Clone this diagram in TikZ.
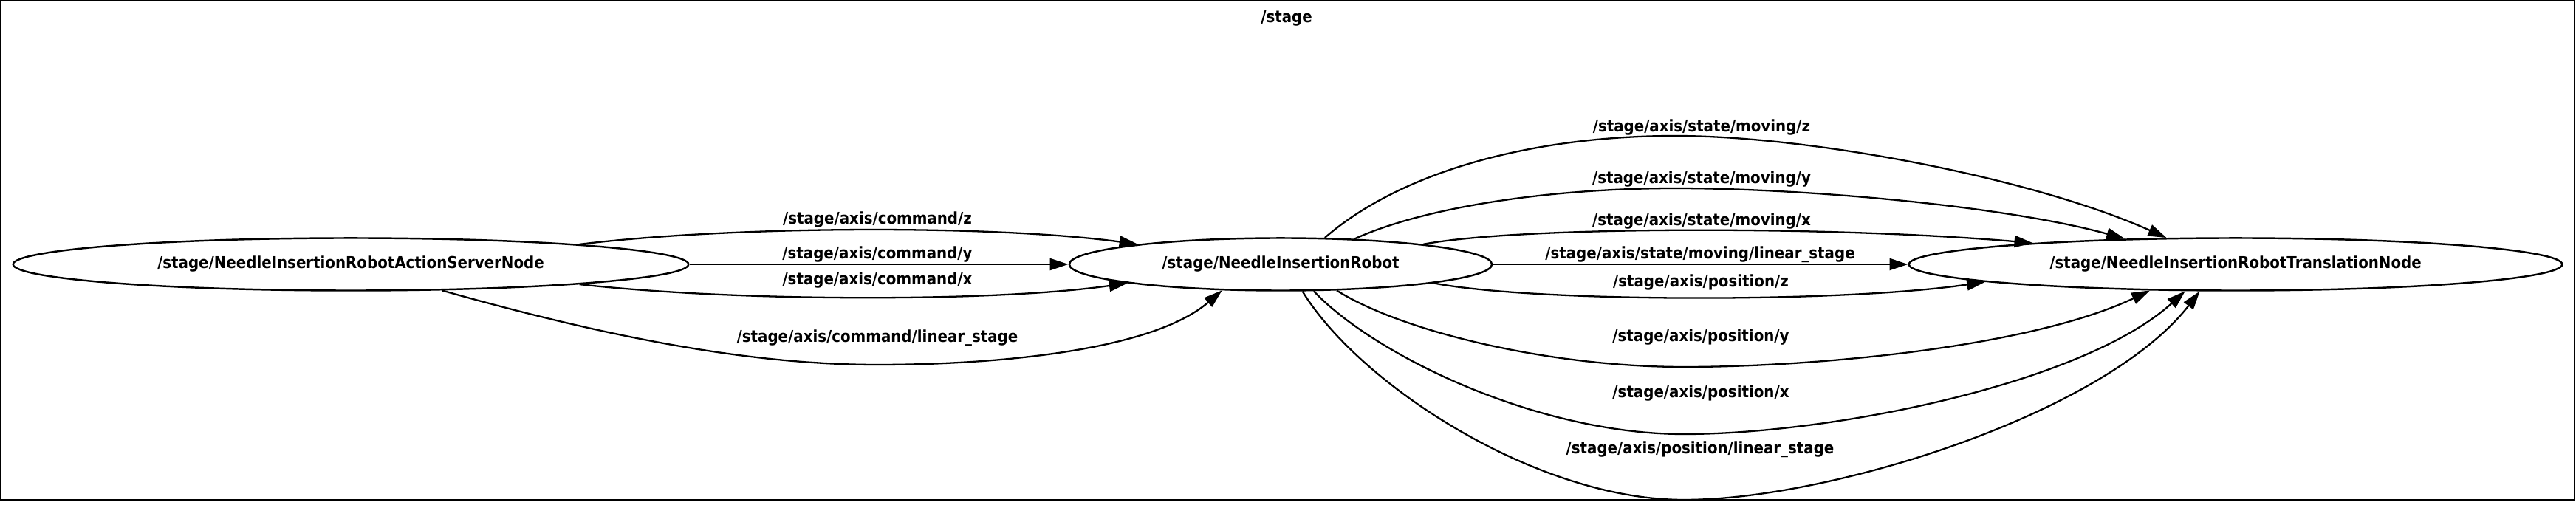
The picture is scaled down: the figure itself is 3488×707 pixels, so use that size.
\documentclass[tikz,border=0pt]{standalone}
\usepackage{fontspec}
\setmainfont{DejaVu Sans}[BoldFont={DejaVu Sans Bold},BoldFeatures={FakeStretch=0.9}]
\usetikzlibrary{arrows.meta,shapes.geometric}

\begin{document}
\begin{tikzpicture}[x=0.01cm,y=-0.01cm,
  every node/.style={font=\fontsize{6.26}{7.5}\selectfont\bfseries},
  rosnode/.style={draw,ellipse,line width=0.7pt,inner sep=0pt,minimum height=0.71cm},
  topic/.style={inner sep=0pt},
  link/.style={line width=0.65pt,-{Triangle[length=0.25cm,width=0.16cm]}}]
  \useasboundingbox (0,0) rectangle (3488,707);
  % Cluster box
  \draw[line width=0.8pt] (1,1) rectangle (3486,677);
  \node (title) at (1742,25) {/stage};
  % Nodes
  \node[rosnode,minimum width=9.14cm] (server) at (475,358) {/stage/NeedleInsertionRobotActionServerNode};
  \node[rosnode,minimum width=5.72cm] (robot) at (1734,358) {/stage/NeedleInsertionRobot};
  \node[rosnode,minimum width=8.84cm] (trans) at (3027,358) {/stage/NeedleInsertionRobotTranslationNode};
  % Commands: server -> robot
  \draw[link] (server.5.2) .. controls (1000,305) and (1350,305) .. (robot.172.5);
  \draw[link] (server) -- (robot);
  \draw[link] (server.-5.2) .. controls (1000,409) and (1350,409) .. (robot.187.3);
  \draw[link] (server.-16.9) .. controls (800,450) and (1000,494) .. (1188,494)
    .. controls (1350,494) and (1560,475) .. (robot.204.4);
  \node[topic] (cmdZ) at (1188,298) {/stage/axis/command/z};
  \node[topic] (cmdY) at (1188,345) {/stage/axis/command/y};
  \node[topic] (cmdX) at (1188,380) {/stage/axis/command/x};
  \node[topic] (cmdLin) at (1188,458) {/stage/axis/command/linear\_stage};
  % State and position: robot -> translation node
  \draw[link] (robot.31.5) .. controls (1900,230) and (2080,184) .. (2268,184)
    .. controls (2450,184) and (2750,240) .. (trans.159.6);
  \draw[link] (robot.19.3) .. controls (1930,280) and (2100,255) .. (2268,255)
    .. controls (2450,255) and (2720,280) .. (trans.167.7);
  \draw[link] (robot.8.2) .. controls (2060,306) and (2480,306) .. (trans.174.6);
  \draw[link] (robot) -- (trans);
  \draw[link] (robot.-7.3) .. controls (2080,410) and (2500,410) .. (trans.184.8);
  \draw[link] (robot.-25.6) .. controls (1900,450) and (2100,497) .. (2280,497)
    .. controls (2460,497) and (2750,470) .. (trans.197.1);
  \draw[link] (robot.-39.8) .. controls (1860,480) and (2080,588) .. (2280,588)
    .. controls (2480,588) and (2820,520) .. (trans.208.9);
  \draw[link] (robot.-51.3) .. controls (1840,520) and (2080,677) .. (2280,677)
    .. controls (2480,677) and (2850,560) .. (trans.217.6);
  \node[topic] (movZ) at (2304,173) {/stage/axis/state/moving/z};
  \node[topic] (movY) at (2304,243) {/stage/axis/state/moving/y};
  \node[topic] (movX) at (2304,300) {/stage/axis/state/moving/x};
  \node[topic] (movLin) at (2302,345) {/stage/axis/state/moving/linear\_stage};
  \node[topic] (posZ) at (2303,383) {/stage/axis/position/z};
  \node[topic] (posY) at (2303,457) {/stage/axis/position/y};
  \node[topic] (posX) at (2303,533) {/stage/axis/position/x};
  \node[topic] (posLin) at (2302,609) {/stage/axis/position/linear\_stage};
\end{tikzpicture}
\end{document}
